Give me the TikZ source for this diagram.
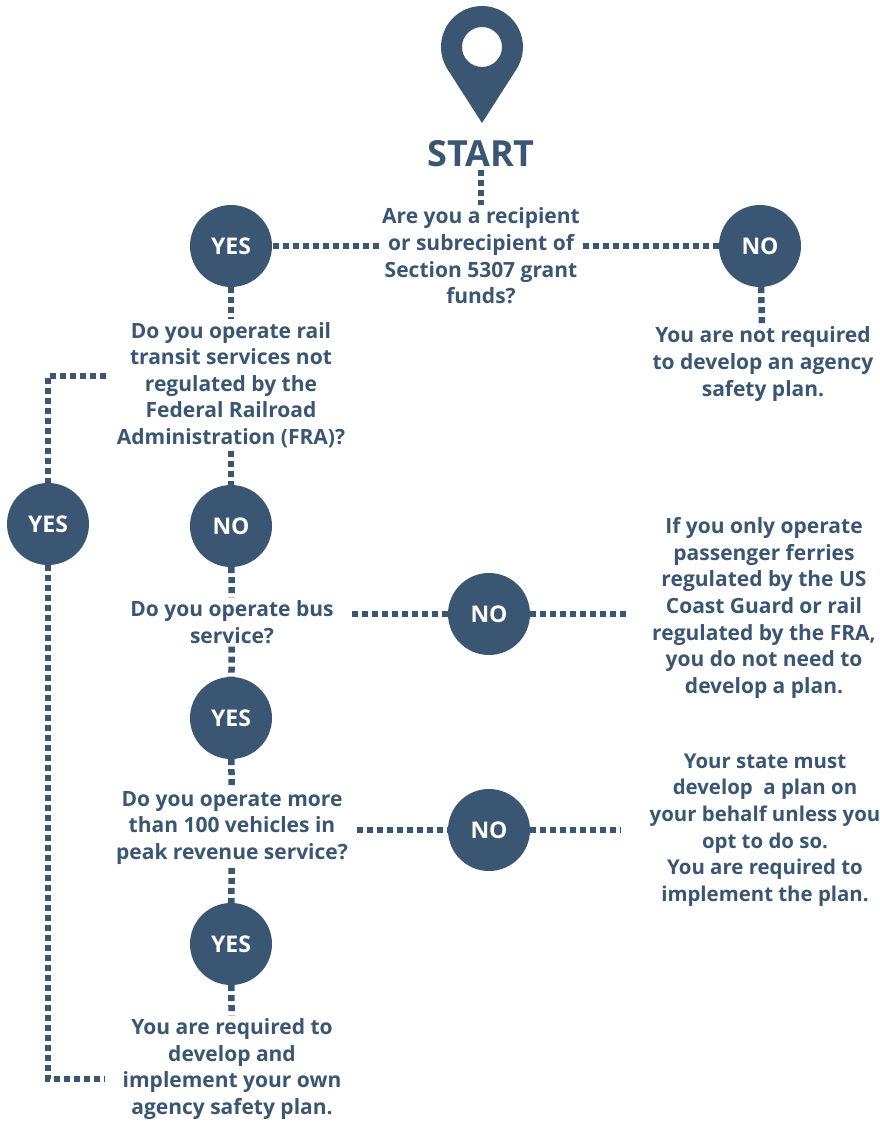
\documentclass[tikz,border=0pt]{standalone}
\usepackage{fontspec}
\setmainfont{Open Sans}
\usepackage{tikz}
\definecolor{slate}{RGB}{58,86,114}

\begin{document}
\begin{tikzpicture}[x=1pt,y=1pt]
	\tikzset{answer/.style = {shape=circle, fill=slate, text=white, minimum size=82pt, inner sep=0pt, font=\fontsize{23}{26}\selectfont\bfseries}}
	\tikzset{query/.style = {align=center, text=slate, inner sep=3pt, font=\fontsize{21}{26.6}\selectfont\bfseries}}
	\tikzset{link/.style = {draw=slate, line width=6.5pt, dash pattern=on 6pt off 4pt}}
	\useasboundingbox (0,0) rectangle (879,-1123);
	% pin
	\fill[slate, even odd rule] (482,-123) -- (516.5,-69.1) arc[start angle=-32.6, end angle=212.6, radius=41] -- cycle
		(482,-47) circle[radius=20];
	\node[query, font=\fontsize{36}{40}\selectfont\bfseries] (start) at (481,-154) {START};
	\node[query] (q1) at (481,-256) {Are you a recipient\\or subrecipient of\\Section 5307 grant\\funds?};
	\node[answer] (yes1) at (231,-246) {YES};
	\node[answer] (no1) at (760,-246) {NO};
	\node[query] (t1) at (763,-364) {You are not required\\to develop an agency\\safety plan.};
	\node[query] (q2) at (231,-385) {Do you operate rail\\transit services not\\regulated by the\\Federal Railroad\\Administration (FRA)?};
	\node[answer] (yes3) at (48,-524) {YES};
	\node[answer] (no2) at (231,-526) {NO};
	\node[query] (q3) at (232,-622) {Do you operate bus\\service?};
	\node[answer] (no3) at (489,-614) {NO};
	\node[query] (t4) at (764,-608) {If you only operate\\passenger ferries\\regulated by the US\\Coast Guard or rail\\regulated by the FRA,\\you do not need to\\develop a plan.};
	\node[answer] (yes4) at (231,-718) {YES};
	\node[query] (q4) at (232,-828) {Do you operate more\\than 100 vehicles in\\peak revenue service?};
	\node[answer] (no5) at (489,-830) {NO};
	\node[query, font=\fontsize{20.4}{26.6}\selectfont\bfseries] (t6) at (765,-830) {Your state must\\develop\ \ a plan on\\your behalf unless you\\opt to do so.\\You are required to\\implement the plan.};
	\node[answer] (yes6) at (231,-944) {YES};
	\node[query] (final) at (232,-1069) {You are required to\\develop and\\implement your own\\agency safety plan.};
	% connectors
	\draw[link] (start) -- (q1);
	\draw[link] (q1.west |- yes1) -- (yes1);
	\draw[link] (q1.east |- no1) -- (no1);
	\draw[link] (no1) -- (t1);
	\draw[link] (yes1) -- (q2);
	\draw[link] (q2) -- (no2);
	\draw[link] ([xshift=-8pt, yshift=9pt]q2.west) -| (yes3);
	\draw[link] (yes3) |- ([xshift=-15pt, yshift=-10pt]final.west);
	\draw[link] (no2) -- (q3);
	\draw[link] ([xshift=15pt]q3.east |- no3) -- (no3);
	\draw[link] (no3) -- ([xshift=-22pt]t4.west |- no3);
	\draw[link] (q3) -- (yes4);
	\draw[link] (yes4) -- (q4);
	\draw[link] ([xshift=6pt]q4.east |- no5) -- (no5);
	\draw[link] (no5) -- ([xshift=-26pt]t6.west |- no5);
	\draw[link] (q4) -- (yes6);
	\draw[link] (yes6) -- (final);
\end{tikzpicture}
\end{document}
